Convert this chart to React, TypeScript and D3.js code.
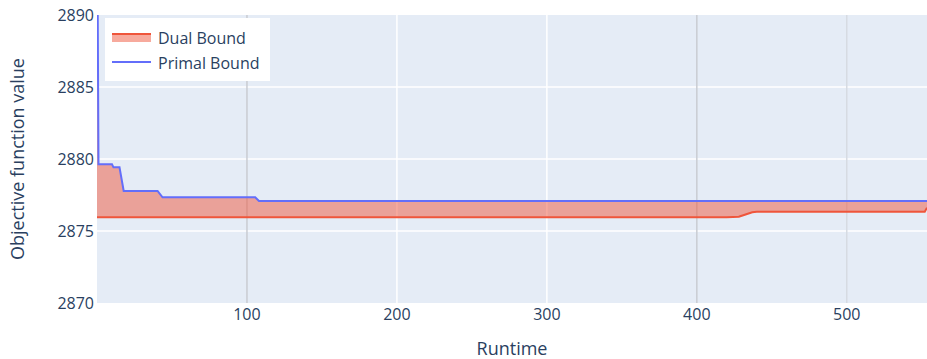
import React from 'react'
import * as d3 from 'd3'

// primal bound (upper)
const primalTime = [0, 1, 10, 11, 15, 17.8, 40.4, 43.7, 105.5, 108, 553.5]
const primalValue = [2900, 2879.63, 2879.63, 2879.42, 2879.42, 2877.78, 2877.78, 2877.34, 2877.34, 2877.08, 2877.08]

// dual bound (lower)
const dualTime = [0, 420, 428, 433, 437, 440, 552, 553.5]
const dualValue = [2875.95, 2875.95, 2875.99, 2876.16, 2876.3, 2876.34, 2876.34, 2876.62]

const xTicks = [100, 200, 300, 400, 500]
const yTicks = [2870, 2875, 2880, 2885, 2890]
const gridTone: { [k: number]: string } = { 100: '#c9ccd2', 200: '#ffffff', 300: '#ffffff', 400: '#c9ccd2', 500: '#d6dbe2' }

const legendItems = ['Dual Bound', 'Primal Bound']

const W = 927
const H = 359
const plot = { left: 97, right: 927, top: 15, bottom: 303 }
const font = '"Open Sans", verdana, arial, sans-serif'
const ink = '#2a3f5f'
const red = '#EF553B'
const blue = '#636EFA'

export default function App() {
  const x = d3.scaleLinear().domain([0, 553.5]).range([plot.left, plot.right])
  const y = d3.scaleLinear().domain([2870, 2890]).range([plot.bottom, plot.top])

  const primal = primalTime.map((t, i) => [t, primalValue[i]] as [number, number])
  const dual = dualTime.map((t, i) => [t, dualValue[i]] as [number, number])

  const path = d3.line<[number, number]>()
    .x(d => x(d[0]))
    .y(d => y(d[1]))

  const band = path([...primal, ...dual.slice().reverse()]) + 'Z'

  return (
    <svg width={W} height={H} style={{ position: 'absolute', left: 0, top: 0 }} fontFamily={font}>
      <defs>
        <clipPath id="plotclip">
          <rect x={plot.left} y={plot.top} width={plot.right - plot.left} height={plot.bottom - plot.top} />
        </clipPath>
      </defs>
      <rect x={0} y={0} width={W} height={H} fill="#ffffff" />
      <rect x={plot.left} y={plot.top} width={plot.right - plot.left} height={plot.bottom - plot.top} fill="#E5ECF6" />

      {yTicks.slice(1, -1).map(t => (
        <line key={'gy' + t} x1={plot.left} x2={plot.right} y1={y(t)} y2={y(t)} stroke="#ffffff" strokeWidth={1.5} />
      ))}
      {xTicks.map(t => (
        <line key={'gx' + t} x1={x(t)} x2={x(t)} y1={plot.top} y2={plot.bottom} stroke={gridTone[t]} strokeWidth={1.5} />
      ))}

      <g clipPath="url(#plotclip)">
        <path d={band} fill="rgba(239,85,59,0.5)" stroke="none" />
        <path d={path(dual) || ''} fill="none" stroke={red} strokeWidth={2} />
        <path d={path(primal) || ''} fill="none" stroke={blue} strokeWidth={2} />
      </g>

      {yTicks.map(t => (
        <text key={'ty' + t} x={plot.left - 3} y={y(t)} dy="0.36em" textAnchor="end" fontSize={16} fill={ink}>{t}</text>
      ))}
      {xTicks.map(t => (
        <text key={'tx' + t} x={x(t)} y={320} textAnchor="middle" fontSize={16} fill={ink}>{t}</text>
      ))}

      <text x={(plot.left + plot.right) / 2} y={355} textAnchor="middle" fontSize={18} fill={ink}>Runtime</text>
      <text transform={`translate(24,${(plot.top + plot.bottom) / 2}) rotate(-90)`} textAnchor="middle" fontSize={18} fill={ink}>Objective function value</text>

      <g>
        <rect x={105} y={18} width={165} height={63} fill="#ffffff" />
        <rect x={112} y={34} width={39} height={8} fill="rgba(239,85,59,0.5)" />
        <line x1={112} x2={151} y1={34} y2={34} stroke={red} strokeWidth={2} />
        <line x1={112} x2={151} y1={62} y2={62} stroke={blue} strokeWidth={2} />
        {legendItems.map((s, i) => (
          <text key={s} x={158} y={38 + i * 25} dy="0.36em" fontSize={16} fill={ink}>{s}</text>
        ))}
      </g>
    </svg>
  )
}
